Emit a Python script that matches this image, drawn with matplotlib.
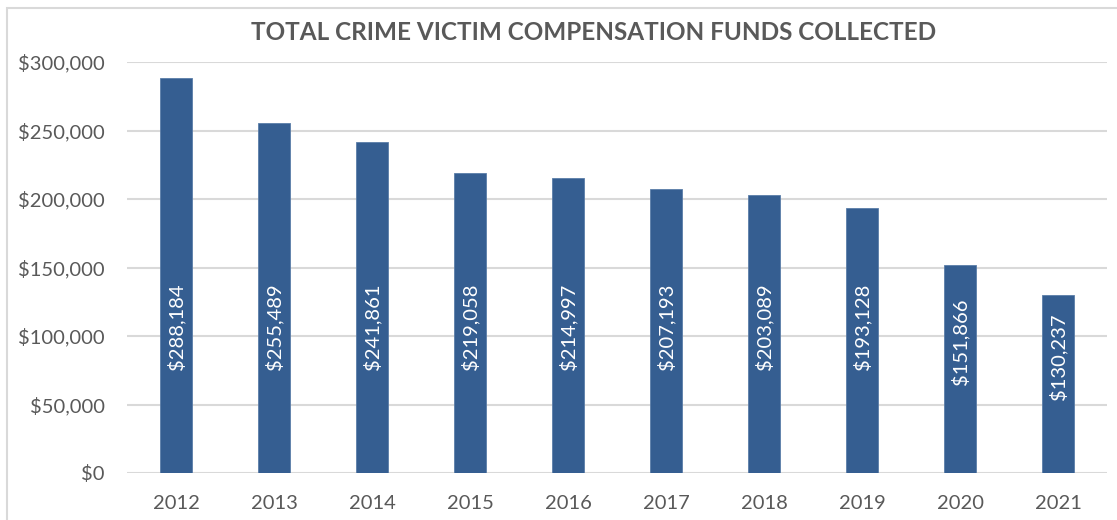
import matplotlib
matplotlib.use("Agg")
import matplotlib.pyplot as plt
from matplotlib.patches import Rectangle
from matplotlib.ticker import FuncFormatter


years = ["2012", "2013", "2014", "2015", "2016", "2017", "2018", "2019", "2020", "2021"]

funds = [288184, 255489, 241861, 219058, 214997, 207193, 203089, 193128, 151866, 130237]

y_ticks = [0, 50000, 100000, 150000, 200000, 250000, 300000]


plt.rcParams["font.family"] = ["Lato", "DejaVu Sans"]

BAR = "#355E91"
GREY = "#595959"
GRID = "#D9D9D9"


fig = plt.figure(figsize=(11.17, 5.2), dpi=100)

ax = fig.add_axes([127 / 1117, 47 / 520, 980 / 1117, 411 / 520])

x = range(len(years))

ax.bar(
    x,
    funds,
    width=0.32,
    color=BAR,
    edgecolor="#5A7DA8",
    linewidth=0.6,
    zorder=3
)

# labels sit in the lower part of the bar, like Excel drew them
for i, v in enumerate(funds):
    ax.text(
        i,
        min(v / 2 + 20000, 107000),
        f"${v:,.0f}",
        rotation=90,
        ha="center",
        va="center",
        color="white",
        fontsize=14.5,
        zorder=4
    )

ax.set_xlim(-0.5, len(years) - 0.5)
ax.set_ylim(0, 300000)

ax.set_xticks(list(x))
ax.set_xticklabels(years)
ax.set_yticks(y_ticks)
ax.yaxis.set_major_formatter(FuncFormatter(lambda v, p: f"${v:,.0f}"))

ax.tick_params(axis="both", length=0, labelsize=14.5, labelcolor=GREY)
ax.tick_params(axis="y", pad=16)
ax.tick_params(axis="x", pad=16)

ax.grid(axis="y", color=GRID, linewidth=1.5, zorder=0)

for s in ax.spines.values():
    s.set_visible(False)

fig.text(
    594 / 1117,
    1 - 32 / 520,
    "TOTAL CRIME VICTIM COMPENSATION FUNDS COLLECTED",
    ha="center",
    va="center",
    fontsize=17.5,
    fontweight="bold",
    color=GREY
)

# chart area frame
fig.patches.append(
    Rectangle(
        (7 / 1117, -0.1),
        1.2,
        1.1 - 8 / 520,
        transform=fig.transFigure,
        fill=False,
        edgecolor=GRID,
        linewidth=1.5
    )
)

plt.savefig("out.png", dpi=100)
